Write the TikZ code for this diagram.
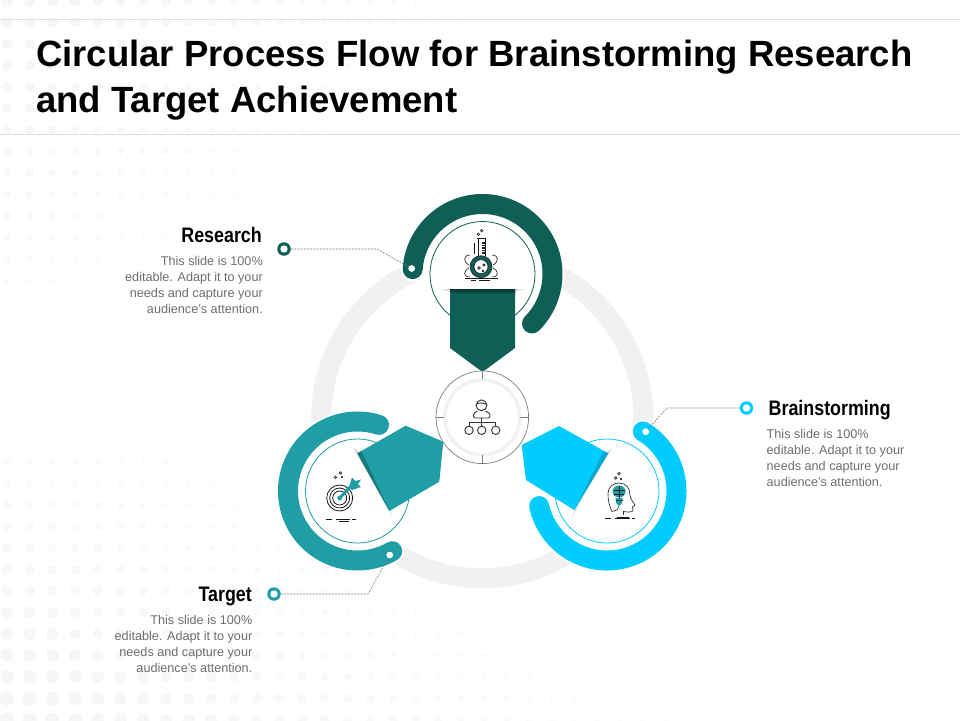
\documentclass[tikz,border=0pt]{standalone}
\usepackage{fontspec}
\setmainfont{Liberation Sans}
\newfontfamily\labfont[FakeStretch=0.85]{Liberation Sans}
\usetikzlibrary{calc,shadings}
\definecolor{cdark}{HTML}{0F5F56}
\definecolor{cteal}{HTML}{1F9EA6}
\definecolor{ccyan}{HTML}{00CCFF}
\definecolor{cring}{HTML}{F1F1F1}
\definecolor{cline}{HTML}{7F7F7F}
\definecolor{ctext}{HTML}{6E6E6E}
\definecolor{cdot}{HTML}{F5F6F8}
\tikzset{
  titletext/.style={font=\fontsize{36.5}{46}\selectfont\bfseries,text=black,anchor=north west,align=left,inner sep=0pt},
  headtext/.style={font=\labfont\fontsize{21}{24}\selectfont\bfseries,text=black,inner sep=0pt},
  bodytext/.style={font=\fontsize{12.65}{16}\selectfont,text=ctext,inner sep=0pt,anchor=north},
  band/.style={line width=20pt,line cap=round},
  halo/.style={line width=24pt,line cap=round,white},
  thin ring/.style={line width=0.8pt},
  marker/.style={circle,fill=#1,minimum size=13.5pt,inner sep=0pt,outer sep=0pt},
  enddot/.style={circle,fill=white,minimum size=6.5pt,inner sep=0pt},
  leader/.style={cline,line width=0.6pt,dash pattern=on 2pt off 1.2pt},
  icon/.style={black!90,line width=0.8pt},
  iconthin/.style={black!90,line width=0.6pt},
  sliver/.style={fill=black!18,draw=none},
}
\begin{document}
\begin{tikzpicture}[x=1pt,y=-1pt]
\useasboundingbox (0,0) rectangle (960,720);
\fill[white] (0,0) rectangle (960,720);
% background dots, top-left
\foreach \row in {0,...,13}{
  \foreach \col in {0,...,26}{
    \pgfmathsetmacro{\dx}{7+22.7*\col}
    \pgfmathsetmacro{\dy}{1+21.5*\row}
    \pgfmathsetmacro{\dv}{1-\dx/560-\dy/420}
    \pgfmathparse{\dv>0.1?1:0}
    \ifnum\pgfmathresult=1
      \pgfmathsetmacro{\dr}{1.5+4.5*\dv}
      \pgfmathsetmacro{\dc}{min(100,30+90*\dv)}
      \fill[cdot!\dc!white] (\dx,\dy) circle[radius=\dr pt];
    \fi
  }
}
% background dots, bottom-left
\foreach \row in {0,...,12}{
  \foreach \col in {0,...,34}{
    \pgfmathsetmacro{\dx}{7+22.7*\col}
    \pgfmathsetmacro{\dy}{462+21.5*\row}
    \pgfmathsetmacro{\dv}{0.38+0.62*(\dy-462)/258-\dx/720}
    \pgfmathparse{\dv>0.06?1:0}
    \ifnum\pgfmathresult=1
      \pgfmathsetmacro{\dr}{1.5+6*\dv}
      \pgfmathsetmacro{\dc}{min(100,25+90*\dv)}
      \fill[cdot!\dc!white] (\dx,\dy) circle[radius=\dr pt];
    \fi
  }
}
% title and rules
\draw[black!13,line width=0.9pt] (0,19.5) -- (960,19.5);
\draw[black!13,line width=0.9pt] (0,134.5) -- (960,134.5);
\node[titletext] (title) at (36,40) {Circular Process Flow for Brainstorming Research\\and Target Achievement};

% coordinates
\coordinate (cc) at (482.3,417.3);
\coordinate (st) at (482.5,274);
\coordinate (sl) at (357.5,491);
\coordinate (sr) at (607,491);

% big ring
\draw[cring,line width=20pt] (cc) circle[radius=161pt];

% satellite discs
\fill[white] (st) circle[radius=62pt];
\fill[white] (sl) circle[radius=62pt];
\fill[white] (sr) circle[radius=62pt];

% thick arcs
\draw[halo] ($(st)+(176:70pt)$) arc[start angle=176,end angle=-45,radius=70pt];
\draw[halo] ($(sl)+(72:69.5pt)$) arc[start angle=72,end angle=300,radius=69.5pt];
\draw[halo] ($(sr)+(59:69.5pt)$) arc[start angle=59,end angle=-167.5,radius=69.5pt];
\draw[band,cdark] ($(st)+(176:70pt)$) arc[start angle=176,end angle=-45,radius=70pt];
\draw[band,cteal] ($(sl)+(72:69.5pt)$) arc[start angle=72,end angle=300,radius=69.5pt];
\draw[band,ccyan] ($(sr)+(59:69.5pt)$) arc[start angle=59,end angle=-167.5,radius=69.5pt];

% thin circles
\draw[thin ring,cdark] (st) circle[radius=52.5pt];
\draw[thin ring,cteal] (sl) circle[radius=52pt];
\draw[thin ring,ccyan] (sr) circle[radius=52pt];

% slivers behind pentagons
\fill[black!12] (440,289) -- (525,289) -- (515,292) -- (450,292) -- cycle;
\fill[sliver] (353.5,448) -- (360,453) -- (393,517) -- (389,511) -- cycle;
\fill[sliver] (611.7,448.3) -- (606,453) -- (571.7,518.3) -- (575,510) -- cycle;

% pentagons
\fill[cdark] (450,289) -- (515,289) -- (515,348) -- (482.5,372) -- (450,348) -- cycle;
\shade[top color=black!45!cdark,bottom color=cdark,draw=none] (450,289) rectangle (515,294);
\fill[cteal] (357.3,453.3) -- (405.7,425.7) -- (443.3,441.7) -- (439.3,481.7) -- (389.3,511) -- cycle;
\fill[black!60!cteal,opacity=0.4] (357.3,453.3) -- (389.3,511) -- (361.5,451) -- cycle;
\fill[ccyan] (521.7,445) -- (559,426) -- (608.3,453.3) -- (574.3,510) -- (526,480) -- cycle;
\fill[black!45!ccyan,opacity=0.4] (608.3,453.3) -- (574.3,510) -- (604,451) -- cycle;

% centre circle
\fill[white] (cc) circle[radius=46.3pt];
\draw[cring,line width=3.2pt] (cc) circle[radius=37.5pt];
\draw[cline,line width=0.7pt] (cc) circle[radius=46.3pt];
\draw[cline,line width=0.7pt] ($(cc)+(0,-46.3)$) -- ($(cc)+(0,-38)$);
\draw[cline,line width=0.7pt] ($(cc)+(0,46.3)$) -- ($(cc)+(0,38)$);
\draw[cline,line width=0.7pt] ($(cc)+(-46.3,0)$) -- ($(cc)+(-38,0)$);
\draw[cline,line width=0.7pt] ($(cc)+(46.3,0)$) -- ($(cc)+(38,0)$);

% centre icon: person and org chart
\begin{scope}[black!80,line width=0.9pt]
\draw (481.5,405.3) circle[radius=5.4pt];
\draw (476.2,404.5) .. controls (478,402) and (484,403) .. (486.8,404.5);
\draw[rounded corners=1.5pt] (477.5,411) -- (473.5,413.5) -- (473.5,418) -- (490,418) -- (490,413.5) -- (485.5,411);
\draw (481.7,418) -- (481.7,426);
\draw (469,426) -- (469,422.3) -- (495.7,422.3) -- (495.7,426);
\draw (469,430.3) circle[radius=4.2pt];
\draw (481.7,430.3) circle[radius=4.2pt];
\draw (495.7,430.3) circle[radius=4.2pt];
\end{scope}

% flask icon
\begin{scope}
\draw[iconthin] (478.3,234.3) circle[radius=1.3pt];
\draw[iconthin] (481.7,230.7) circle[radius=1.3pt];
\draw[icon] (476.7,238.5) -- (486,238.5);
\draw[icon] (478,238.5) -- (478,256);
\draw[icon] (485.2,238.5) -- (485.2,256);
\draw[black!90,line width=1.2pt] (482,243) -- (485,243) (482,245.5) -- (485,245.5) (482,248) -- (485,248) (482,250.5) -- (485,250.5) (482,253) -- (485,253);
\draw[iconthin] (474,243) -- (474,254);
\draw[iconthin] (470,255) .. controls (463,255) and (463,262) .. (469,265);
\draw[iconthin] (492,255) .. controls (499,255) and (499,262) .. (493,265);
\draw[iconthin] (470,277) .. controls (463,277) and (463,271) .. (469,268);
\draw[iconthin] (492,277) .. controls (499,277) and (499,271) .. (493,268);
\draw[cdark,line width=3.6pt] (481,266.7) circle[radius=9pt];
\draw[iconthin] (481,266.7) circle[radius=11pt];
\draw[iconthin] (481,266.7) circle[radius=7pt];
\draw[iconthin] (479,268) circle[radius=1.4pt];
\draw[iconthin] (484,265) circle[radius=1.1pt];
\draw[iconthin] (483,271) circle[radius=0.9pt];
\draw[icon] (465,278.5) -- (498,278.5);
\draw[iconthin] (471,280.5) -- (476,280.5) (479,280.5) -- (490,280.5);
\end{scope}

% target icon
\begin{scope}
\draw[iconthin] (335.3,477.3) circle[radius=1.3pt];
\draw[iconthin] (340.3,473) circle[radius=1.3pt];
\fill[black!75] (341,476.3) rectangle (343,478.3);
\draw[icon] (339.7,498) circle[radius=13pt];
\draw[icon] (339.7,498) circle[radius=10pt];
\draw[icon] (339.7,498) circle[radius=7pt];
\draw[cteal,line width=3pt] (339.7,498) -- (351,486);
\fill[cteal] (339.7,498) circle[radius=2.4pt];
\fill[cteal] (349,487) -- (352,477.5) -- (355.5,481) -- (361,479.5) -- (358,484) -- (361,487) -- (352,490) -- cycle;
\draw[icon] (326,519.7) -- (332,519.7) (336,519.7) -- (350,519.7) (352,519.7) -- (356,519.7);
\draw[iconthin] (339,521.5) -- (349,521.5);
\end{scope}

% brain icon
\begin{scope}
\draw[iconthin] (615.7,478) circle[radius=1.3pt];
\draw[iconthin] (619,473.7) circle[radius=1.3pt];
\fill[black!75] (620,477.7) rectangle (622,479.7);
\draw[iconthin] (612,511.5) .. controls (609,505) and (608,500) .. (608,494)
  .. controls (608,486) and (614,483) .. (619,483)
  .. controls (626,483) and (630,488) .. (630,495)
  .. controls (630,499) and (634,503) .. (635,505)
  -- (632.5,507) -- (633,510.5) .. controls (633,512) and (628,512.5) .. (623.5,511.5) -- (623.5,514.5);
\fill[cteal] (619,491.5) ellipse[x radius=6.5pt,y radius=6pt];
\draw[iconthin] (619,485.5) -- (619,497.5) (613.5,490) -- (624.5,490) (614,494) -- (624,494);
\fill[cteal] (615.5,498) -- (622.5,498) -- (622,503) -- (619,506) -- (616,503) -- cycle;
\draw[black!80,line width=0.5pt] (615.5,500) -- (622.5,500);
\draw[iconthin] (619,506) -- (617,510) -- (612,511.5);
\draw[icon] (605,518.7) -- (611,518.7) (615,518.7) -- (630,518.7) (632,518.7) -- (635,518.7);
\draw[iconthin] (617,516.8) -- (629,516.8);
\end{scope}

% end dots, markers and leaders
\node[enddot] (rdot) at (411.7,268.5) {};
\node[enddot] (tdot) at (389.7,555) {};
\node[enddot] (bdot) at (645.7,431.7) {};
\node[marker=cdark] (rmark) at (284,249) {};
\node[marker=cteal] (tmark) at (274,594) {};
\node[marker=ccyan] (bmark) at (746.5,408) {};
\coordinate (relbow) at (377,249);
\coordinate (telbow) at (368,594);
\coordinate (belbow) at (667,408);
\draw[leader] (rmark) -- (relbow) -- (rdot.center);
\draw[leader] (tmark) -- (telbow) -- (tdot.center);
\draw[leader] (bmark) -- (belbow) -- (bdot.center);
\fill[white] (rmark.center) circle[radius=3.7pt];
\fill[white] (tmark.center) circle[radius=3.7pt];
\fill[white] (bmark.center) circle[radius=3.7pt];
\fill[white] (rdot) circle[radius=3.2pt];
\fill[white] (tdot) circle[radius=3.2pt];
\fill[white] (bdot) circle[radius=3.2pt];

% labels
\node[headtext,anchor=base east] (rhead) at (262,242) {Research};
\node[bodytext,anchor=north east,align=right] (rbody) at (263,256) {This slide is 100\%\\editable. Adapt it to your\\needs and capture your\\audience's attention.};
\node[headtext,anchor=base east] (thead) at (252,601) {Target};
\node[bodytext,anchor=north east,align=right] (tbody) at (252.5,615) {This slide is 100\%\\editable. Adapt it to your\\needs and capture your\\audience's attention.};
\node[headtext,anchor=base west] (bhead) at (768.5,415) {Brainstorming};
\node[bodytext,anchor=north west,align=left] (bbody) at (766.5,429) {This slide is 100\%\\editable. Adapt it to your\\needs and capture your\\audience's attention.};
\end{tikzpicture}
\end{document}
